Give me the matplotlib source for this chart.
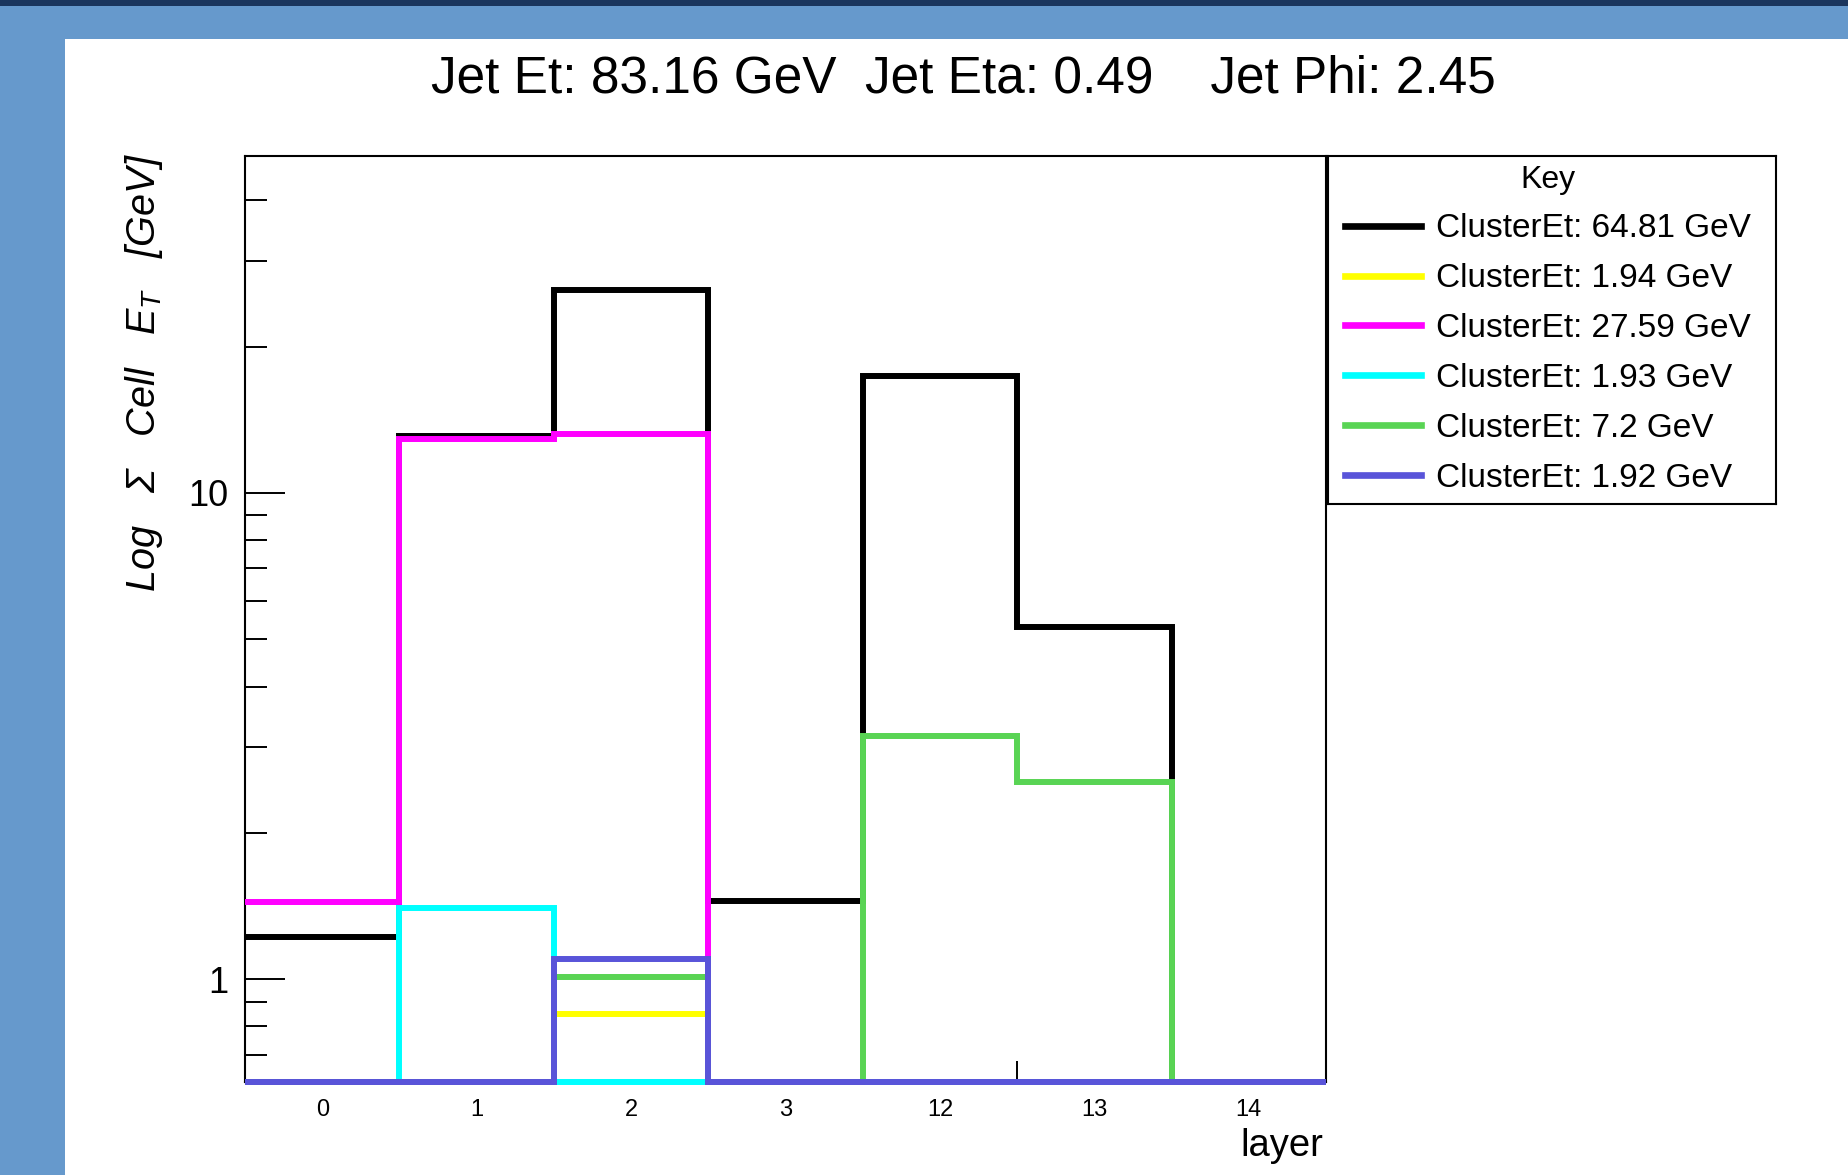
import numpy as np
import matplotlib
matplotlib.use("Agg")
import matplotlib.pyplot as plt
from matplotlib.lines import Line2D
from matplotlib.patches import Rectangle
from matplotlib.ticker import FixedLocator, NullFormatter

plt.rcParams['font.family'] = ['Liberation Sans', 'DejaVu Sans']
plt.rcParams['mathtext.fontset'] = 'custom'
plt.rcParams['mathtext.rm'] = 'Liberation Sans:italic'
plt.rcParams['mathtext.it'] = 'Liberation Sans:italic'

# DATA
layers = ['0', '1', '2', '3', '12', '13', '14']
cluster_labels = ['ClusterEt: 64.81 GeV', 'ClusterEt: 1.94 GeV', 'ClusterEt: 27.59 GeV',
                  'ClusterEt: 1.93 GeV', 'ClusterEt: 7.2 GeV', 'ClusterEt: 1.92 GeV']
# summed cell Et per layer for each cluster (0 = empty layer)
black_et = [1.22, 13.1, 26.2, 1.45, 17.4, 5.3, 0]
yellow_et = [0, 0, 0.85, 0, 0, 0, 0]
magenta_et = [1.44, 12.9, 13.2, 0, 0, 0, 0]
cyan_et = [0, 1.40, 0.53, 0, 0, 0, 0]
green_et = [0, 0, 1.01, 0, 3.17, 2.54, 0]
blue_et = [0, 0, 1.10, 0, 0, 0, 0]
cluster_colors = ['black', '#ffff00', '#ff00ff', '#00ffff', '#59d454', '#5954d9']

title = 'Jet Et: 83.16 GeV  Jet Eta: 0.49    Jet Phi: 2.45'
ymin, ymax = 0.615, 49.3

W, H = 1848, 1175
fig = plt.figure(figsize=(W / 100, H / 100), dpi=100)
fig.patch.set_facecolor('#6699cc')
# white pad and dark top strip like the ROOT canvas
fig.patches.append(Rectangle((65 / W, 0), 1, 1 - 39 / H, transform=fig.transFigure,
                             facecolor='white', edgecolor='none', zorder=-10))
fig.patches.append(Rectangle((0, 1 - 6 / H), 1, 6 / H, transform=fig.transFigure,
                             facecolor='#1b365d', edgecolor='none', zorder=-10))

ax = fig.add_axes([245 / W, 1 - 1082 / H, (1326 - 245) / W, (1082 - 156) / H])
ax.set_facecolor('white')
ax.set_yscale('log')
ax.set_xlim(0, 7)
ax.set_ylim(ymin, ymax)

edges = np.arange(len(layers) + 1)
all_et = [black_et, yellow_et, magenta_et, cyan_et, green_et, blue_et]
handles = []
for i, (et, c) in enumerate(zip(all_et, cluster_colors)):
    vals = np.clip(np.array(et, dtype=float), ymin, None)
    ax.stairs(vals, edges, baseline=None, color=c, lw=4.3, clip_on=False, zorder=3 + i)
    handles.append(Line2D([], [], color=c, lw=4.8))

for s in ax.spines.values():
    s.set_linewidth(1.5)

ax.yaxis.set_major_locator(FixedLocator([1, 10]))
ax.set_yticklabels(['1', '10'])
minors = [0.7, 0.8, 0.9, 2, 3, 4, 5, 6, 7, 8, 9, 20, 30, 40]
ax.yaxis.set_minor_locator(FixedLocator(minors))
ax.yaxis.set_minor_formatter(NullFormatter())
ax.tick_params(axis='y', which='major', direction='in', length=29, width=1.4, labelsize=26, pad=12)
ax.tick_params(axis='y', which='minor', direction='in', length=16, width=1.4)

ax.set_xticks(edges[:-1] + 0.5)
ax.set_xticklabels(layers)
ax.xaxis.set_minor_locator(FixedLocator([5, 7]))
ax.tick_params(axis='x', which='major', length=0, labelsize=17, pad=12)
ax.tick_params(axis='x', which='minor', direction='in', length=15, width=1.4)

fig.text(963 / W, 1 - 79 / H, title, ha='center', va='center', fontsize=37)
fig.text(144 / W, 1 - 153 / H, 'Log   Σ   Cell   $E_{T}$   [GeV]', style='italic',
         rotation=90, ha='center', va='top', fontsize=28.5)
fig.text(1323 / W, 1 - 1146 / H, 'layer', ha='right', va='center', fontsize=27.5)

# legend box
lax = fig.add_axes([1328 / W, 1 - 504 / H, (1776 - 1328) / W, (504 - 156) / H])
lax.set_xticks([])
lax.set_yticks([])
for s in lax.spines.values():
    s.set_linewidth(1.5)
leg = lax.legend(handles, cluster_labels, loc='upper left', bbox_to_anchor=(0.015, 1.004),
                 frameon=False, title='Key', fontsize=24, title_fontsize=23,
                 handlelength=2.3, handletextpad=0.45, labelspacing=0.565,
                 borderaxespad=0, borderpad=0.3)

fig.savefig('out.png', dpi=100)
